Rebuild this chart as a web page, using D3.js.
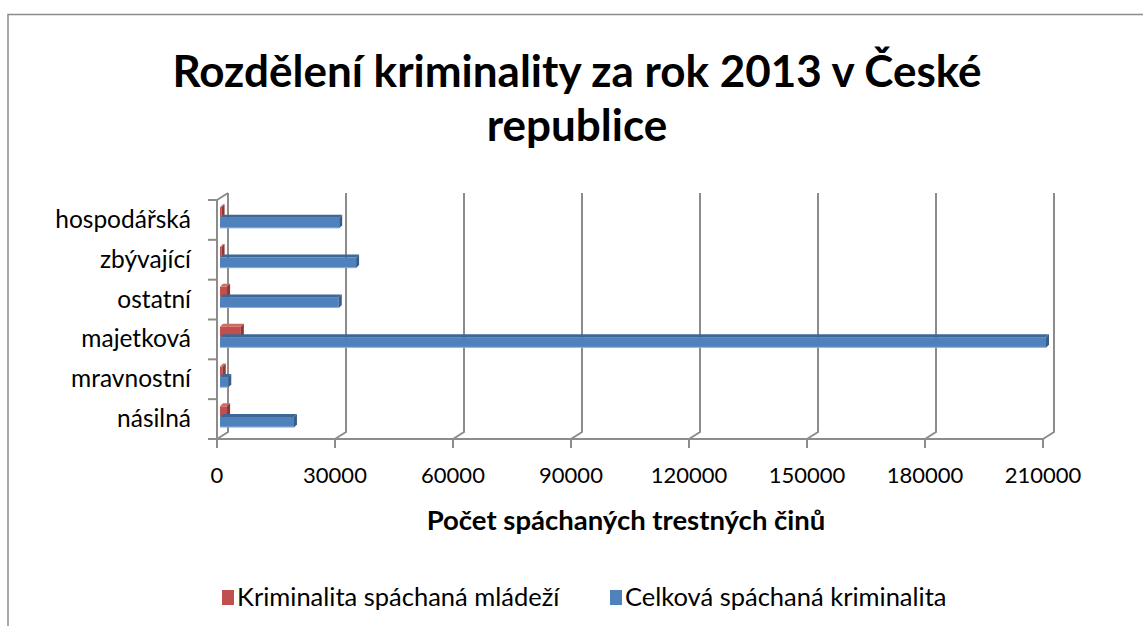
<!DOCTYPE html>
<html>
<head>
<meta charset="utf-8">
<script src="https://cdn.jsdelivr.net/npm/d3@7"></script>
<style>
	body { margin: 0; background: #fff; }
	svg { font-family: Lato, "Open Sans", sans-serif; }
	.cat { font-size: 24.5px; fill: #000; }
	.tick { font-size: 22px; fill: #000; }
</style>
</head>
<body>
<svg width="1143" height="626"></svg>
<script>
// data
var categories = ["hospodářská", "zbývající", "ostatní", "majetková", "mravnostní", "násilná"];
var youth = [400, 400, 1800, 5300, 700, 1800];
var total = [30300, 34600, 30200, 210000, 2100, 18800];
var seriesNames = ["Kriminalita spáchaná mládeží", "Celková spáchaná kriminalita"];
var xTicks = [0, 30000, 60000, 90000, 120000, 150000, 180000, 210000];

var colors = [
	{front: "#c0504d", top: "#d06a66", side: "#8c3836"},
	{front: "#4f81bd", top: "#3f6796", side: "#385d8a"}
];

var svg = d3.select("svg");
var dx = 11, dy = -7;      // depth of the back wall
var bx = 3, bd = 3;        // bar offset and bar depth

var x = d3.scaleLinear().domain([0, 210000]).range([217, 1043]);
var y = d3.scaleBand().domain(categories).range([200, 439]);
var bw = y.bandwidth();
var ys = d3.scaleBand().domain([0, 1]).range([0.18 * bw, 0.71 * bw]);

// chart border
svg.append("rect").attr("x", 8).attr("y", 14.5).attr("width", 1150).attr("height", 630)
	.attr("fill", "none").attr("stroke", "#8c8c8c").attr("stroke-width", 1.5);

// title
var title = svg.append("text").attr("text-anchor", "middle")
	.attr("font-weight", "bold").attr("font-size", 44);
title.append("tspan").attr("x", 577).attr("y", 87).text("Rozdělení kriminality za rok 2013 v České");
title.append("tspan").attr("x", 577).attr("y", 141).text("republice");

var grid = svg.append("g").attr("stroke", "#8c8c8c").attr("stroke-width", 2).attr("fill", "none");

// back wall gridlines with the slant down to the floor
xTicks.forEach(function(t) {
	grid.append("path").attr("d", "M" + x(t) + "," + 439 + "L" + (x(t) + dx) + "," + (439 + dy) +
		"L" + (x(t) + dx) + "," + (200 + dy));
});
// left side wall
grid.append("path").attr("d", "M" + x(0) + ",200L" + (x(0) + dx) + "," + (200 + dy));
grid.append("line").attr("x1", x(0)).attr("x2", x(0)).attr("y1", 200).attr("y2", 439);
// floor front edge and ticks
grid.append("line").attr("x1", x(0) - 9).attr("x2", x(210000)).attr("y1", 439).attr("y2", 439);
xTicks.forEach(function(t) {
	grid.append("line").attr("x1", x(t)).attr("x2", x(t)).attr("y1", 439).attr("y2", 448);
});
// category ticks
y.domain().forEach(function(c) {
	grid.append("line").attr("x1", x(0) - 9).attr("x2", x(0)).attr("y1", y(c)).attr("y2", y(c));
});

// tick labels
svg.selectAll("text.tick").data(xTicks).enter().append("text").attr("class", "tick")
	.attr("x", function(d) { return x(d); }).attr("y", 483).attr("text-anchor", "middle")
	.text(function(d) { return d; });

svg.selectAll("text.cat").data(categories).enter().append("text").attr("class", "cat")
	.attr("x", 191).attr("y", function(d) { return y(d) + bw / 2 + 8; })
	.attr("text-anchor", "end").text(function(d) { return d; });

// 3d bars
function bar(g, c, v, s) {
	var x0 = x(0) + bx, x1 = x(v) + bx;
	var y0 = y(c) + ys(s), h = ys.bandwidth();
	var col = colors[s];
	g.append("rect").attr("x", x0).attr("y", y0).attr("width", x1 - x0).attr("height", h).attr("fill", col.front);
	g.append("path").attr("fill", col.top).attr("d",
		"M" + x0 + "," + y0 + "L" + (x0 + bd) + "," + (y0 - bd) + "L" + (x1 + bd) + "," + (y0 - bd) + "L" + x1 + "," + y0 + "Z");
	g.append("path").attr("fill", col.side).attr("d",
		"M" + x1 + "," + y0 + "L" + (x1 + bd) + "," + (y0 - bd) + "L" + (x1 + bd) + "," + (y0 + h - bd) + "L" + x1 + "," + (y0 + h) + "Z");
	g.append("line").attr("x1", x0).attr("x2", x1).attr("y1", y0 + h - 0.5).attr("y2", y0 + h - 0.5)
		.attr("stroke", "#fff").attr("stroke-opacity", 0.35);
}
var bars = svg.append("g");
categories.forEach(function(c, i) {
	bar(bars, c, youth[i], 0);
	bar(bars, c, total[i], 1);
});

// axis title
svg.append("text").attr("x", 626).attr("y", 530).attr("text-anchor", "middle")
	.attr("font-weight", "bold").attr("font-size", 27.5).text("Počet spáchaných trestných činů");

// legend
var legX = [222, 610];
seriesNames.forEach(function(n, i) {
	var g = svg.append("g").attr("transform", "translate(" + legX[i] + ",590)");
	g.append("rect").attr("width", 12).attr("height", 15).attr("fill", colors[i].front);
	g.append("text").attr("x", 15).attr("y", 16).attr("font-size", 25.5).text(n);
});
</script>
</body>
</html>
